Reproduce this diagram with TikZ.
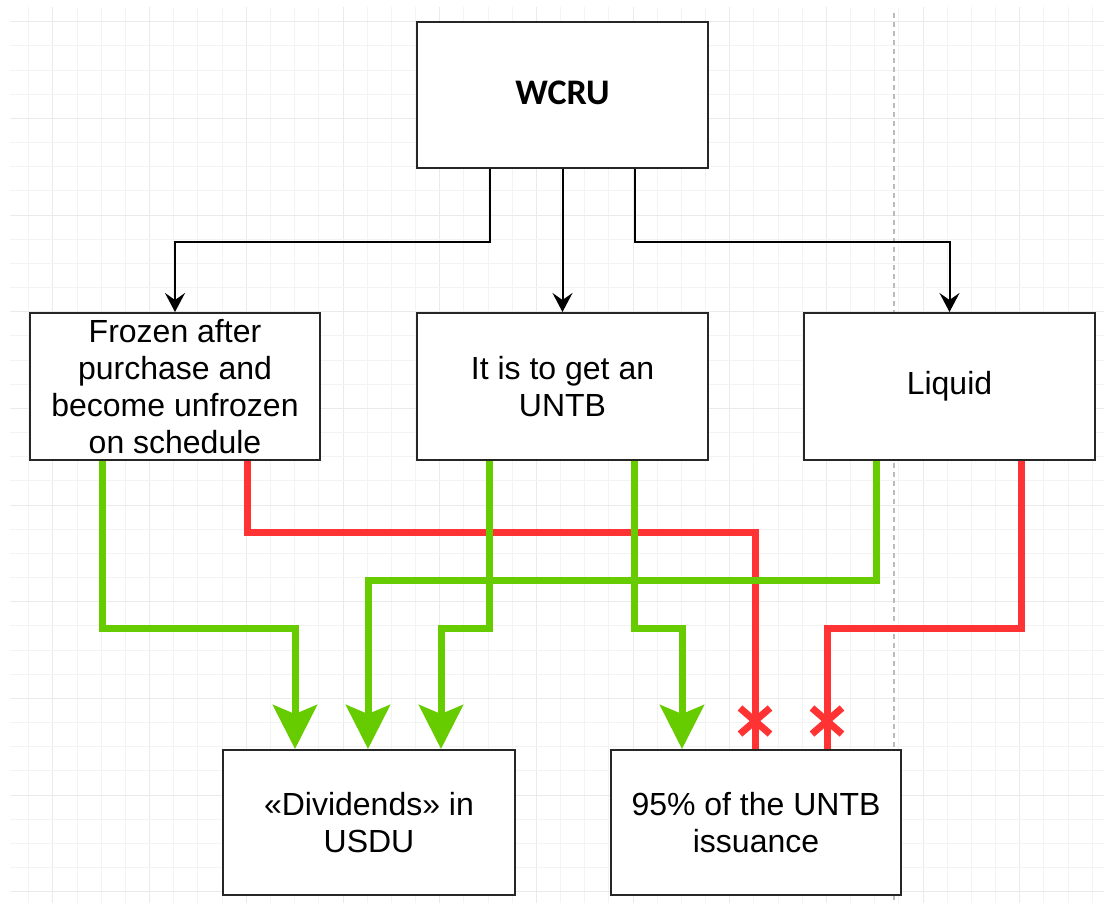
\documentclass[tikz,border=0pt]{standalone}
\usepackage{fontspec}
\setmainfont{Liberation Sans}
\newfontfamily\wcrufont{Carlito}
\usetikzlibrary{arrows.meta,decorations.markings,calc}
\definecolor{gline}{HTML}{66CC00}
\definecolor{rline}{HTML}{FF3333}
\definecolor{gridminor}{HTML}{F3F3F3}
\definecolor{gridmajor}{HTML}{EAEAEA}
\definecolor{dashgray}{HTML}{BBBBBB}
\tikzset{
  box/.style={draw=black!85, line width=2pt, fill=white, minimum width=290pt, minimum height=146pt, inner sep=0pt, align=center, font=\fontsize{32}{37}\selectfont},
  blackarrow/.style={draw=black, line width=2pt, -{Stealth[length=19pt,width=20pt,inset=7pt]}},
  greenarrow/.style={draw=gline, line width=7pt, -{Stealth[length=44pt,width=44pt,inset=9pt]}},
  redcross/.style={draw=rline, line width=7pt,
    postaction={decorate, decoration={markings,
      mark=at position 1 with {\draw[rline, line width=7pt] (-41pt,-15pt) -- (-15pt,15pt) (-41pt,15pt) -- (-15pt,-15pt);}}}},
}
\begin{document}
\begin{tikzpicture}[x=1pt,y=-1pt]
\useasboundingbox (0,0) rectangle (1104,903);
\fill[white] (0,0) rectangle (1104,903);
% grid
\foreach \i in {0,...,44} {
  \pgfmathsetmacro\gx{28.8+\i*24.17}
  \pgfmathtruncatemacro\ismaj{mod(\i+3,4)==0 ? 1 : 0}
  \ifnum\ismaj=1
    \draw[gridmajor, line width=1pt] (\gx,7) -- (\gx,903);
  \else
    \draw[gridminor, line width=1pt] (\gx,7) -- (\gx,903);
  \fi
}
\foreach \j in {0,...,36} {
  \pgfmathsetmacro\gy{21.7+\j*24.17}
  \pgfmathtruncatemacro\ismaj{mod(\j,4)==0 ? 1 : 0}
  \ifnum\ismaj=1
    \draw[gridmajor, line width=1pt] (10,\gy) -- (1104,\gy);
  \else
    \draw[gridminor, line width=1pt] (10,\gy) -- (1104,\gy);
  \fi
}
\draw[dashgray, line width=2pt, dash pattern=on 5pt off 4pt] (894,13) -- (894,903);

% nodes
\node[box, minimum width=291pt] (wcru) at (562.5,95) {\wcrufont\bfseries\fontsize{36}{40}\selectfont\raisebox{4pt}{WCRU}};
\node[box, minimum height=147pt] (frozen) at (175,386.5) {Frozen after\\purchase and\\become unfrozen\\on schedule};
\node[box, minimum width=291pt, minimum height=147pt] (untb) at (562.5,386.5) {It is to get an\\UNTB};
\node[box, minimum width=291pt, minimum height=147pt] (liquid) at (949.5,386.5) {Liquid};
\node[box, minimum width=292pt, minimum height=145pt] (div) at (369,822.5) {«Dividends» in\\USDU};
\node[box, minimum height=145pt] (p95) at (756,822.5) {95\% of the UNTB\\issuance};

% x positions
\coordinate (xa) at (490,0);
\coordinate (xb) at (635,0);
\coordinate (xf1) at (102,0);
\coordinate (xf2) at (247,0);
\coordinate (xu1) at (489,0);
\coordinate (xu2) at (634,0);
\coordinate (xl1) at (876,0);
\coordinate (xl2) at (1021,0);
\coordinate (xd1) at (295,0);
\coordinate (xd2) at (368,0);
\coordinate (xd3) at (441,0);
\coordinate (xp1) at (682,0);
\coordinate (xp2) at (755,0);
\coordinate (xp3) at (827,0);

% black connectors
\draw[blackarrow] (wcru.south -| xa) -- ++(0,72.5) -| (frozen.north);
\draw[blackarrow] (wcru.south) -- (untb.north);
\draw[blackarrow] (wcru.south -| xb) -- ++(0,72.5) -| (liquid.north);

% red connectors
\draw[redcross] (frozen.south -| xf2) -- ++(0,71.5) -| (p95.north -| xp2);
\draw[redcross] (liquid.south -| xl2) -- ++(0,167.5) -| (p95.north -| xp3);

% green connectors
\draw[greenarrow] (frozen.south -| xf1) -- ++(0,167.5) -| (div.north -| xd1);
\draw[greenarrow] (liquid.south -| xl1) -- ++(0,119.5) -| (div.north -| xd2);
\draw[greenarrow] (untb.south -| xu1) -- ++(0,167.5) -| (div.north -| xd3);
\draw[greenarrow] (untb.south -| xu2) -- ++(0,167.5) -| (p95.north -| xp1);
\end{tikzpicture}
\end{document}
